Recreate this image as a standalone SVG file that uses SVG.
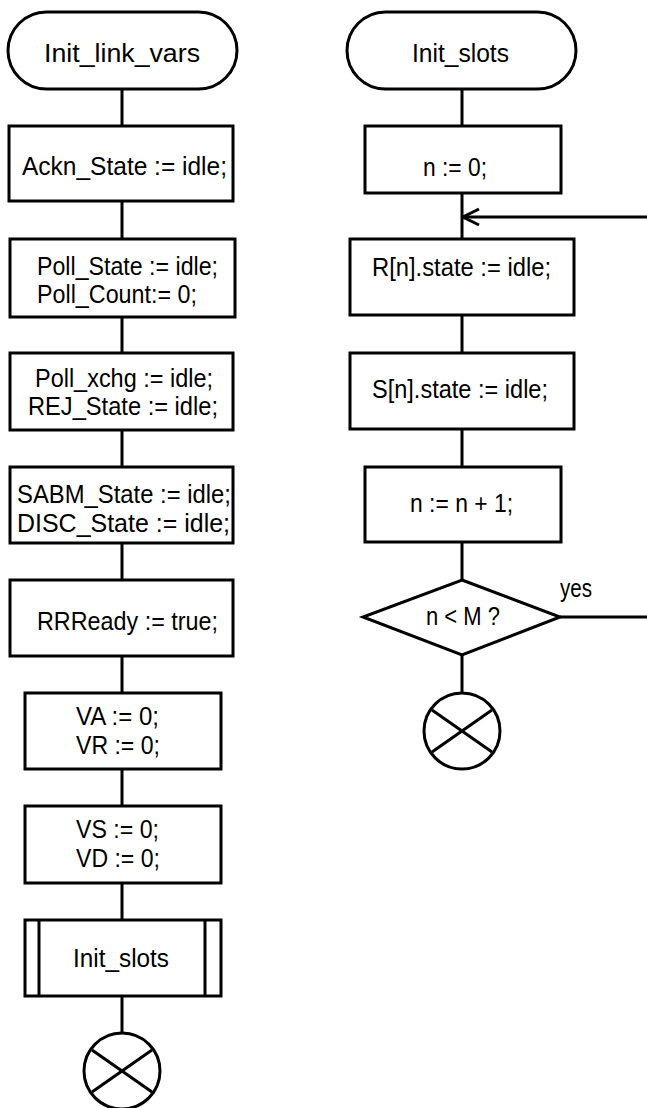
<svg xmlns="http://www.w3.org/2000/svg" width="647" height="1108" viewBox="0 0 647 1108">
<style>
.s{fill:#fff;stroke:#000;stroke-width:3}
.l{fill:none;stroke:#000;stroke-width:3}
text{font-family:"Liberation Sans Narrow","Liberation Sans",Arial,sans-serif;font-size:25px;fill:#000}
</style>
<defs>
<marker id="open" viewBox="0 0 20 20" refX="19" refY="10" markerWidth="20" markerHeight="20" markerUnits="userSpaceOnUse" orient="auto">
<path d="M3,2 L19,10 L3,18" fill="none" stroke="#000" stroke-width="3"/>
</marker>
</defs>
<g id="connectors">
<line class="l" x1="122" y1="89" x2="122" y2="1033"/>
<line class="l" x1="462" y1="89" x2="462" y2="692"/>
<path class="l" d="M560,617 H652 V217 H463" marker-end="url(#open)"/>
</g>
<g id="start_left"><rect class="s" x="8" y="12" width="229" height="77" rx="38.5"/><text x="44" y="62" textLength="156" lengthAdjust="spacingAndGlyphs">Init_link_vars</text></g>
<g id="ackn"><rect class="s" x="9" y="126" width="224" height="75"/><text x="22" y="175" textLength="205" lengthAdjust="spacingAndGlyphs">Ackn_State := idle;</text></g>
<g id="poll"><rect class="s" x="10" y="239" width="225" height="78"/><text x="37" y="275" textLength="181" lengthAdjust="spacingAndGlyphs">Poll_State := idle;</text><text x="37" y="303" textLength="160" lengthAdjust="spacingAndGlyphs">Poll_Count:= 0;</text></g>
<g id="pollx"><rect class="s" x="10" y="353" width="223" height="77"/><text x="35" y="387" textLength="178" lengthAdjust="spacingAndGlyphs">Poll_xchg := idle;</text><text x="28" y="415" textLength="190" lengthAdjust="spacingAndGlyphs">REJ_State := idle;</text></g>
<g id="sabm"><rect class="s" x="10" y="467" width="223" height="76"/><text x="17" y="503" textLength="214" lengthAdjust="spacingAndGlyphs">SABM_State := idle;</text><text x="17" y="532" textLength="213" lengthAdjust="spacingAndGlyphs">DISC_State := idle;</text></g>
<g id="rr"><rect class="s" x="10" y="580" width="223" height="76"/><text x="37" y="630" textLength="181" lengthAdjust="spacingAndGlyphs">RRReady := true;</text></g>
<g id="vavr"><rect class="s" x="25" y="693" width="196" height="76"/><text x="76" y="725" textLength="83" lengthAdjust="spacingAndGlyphs">VA := 0;</text><text x="76" y="754" textLength="84" lengthAdjust="spacingAndGlyphs">VR := 0;</text></g>
<g id="vsvd"><rect class="s" x="25" y="806" width="196" height="77"/><text x="76" y="838" textLength="83" lengthAdjust="spacingAndGlyphs">VS := 0;</text><text x="76" y="867" textLength="84" lengthAdjust="spacingAndGlyphs">VD := 0;</text></g>
<g id="call"><rect class="s" x="25" y="920" width="196" height="76"/><line class="l" x1="39" y1="920" x2="39" y2="996"/><line class="l" x1="205" y1="920" x2="205" y2="996"/><text x="73" y="967" textLength="96" lengthAdjust="spacingAndGlyphs">Init_slots</text></g>
<g id="end_left"><circle class="s" cx="122" cy="1071" r="38"/><line class="l" x1="92" y1="1050" x2="152" y2="1092"/><line class="l" x1="92" y1="1092" x2="152" y2="1050"/></g>
<g id="start_right"><rect class="s" x="347" y="12" width="229" height="77" rx="38.5"/><text x="412" y="62" textLength="97" lengthAdjust="spacingAndGlyphs">Init_slots</text></g>
<g id="n0"><rect class="s" x="365" y="126" width="196" height="67"/><text x="423" y="176" textLength="64" lengthAdjust="spacingAndGlyphs">n := 0;</text></g>
<g id="rn"><rect class="s" x="350" y="239" width="224" height="76"/><text x="372" y="276" textLength="179" lengthAdjust="spacingAndGlyphs">R[n].state := idle;</text></g>
<g id="sn"><rect class="s" x="350" y="353" width="224" height="76"/><text x="372" y="398" textLength="176" lengthAdjust="spacingAndGlyphs">S[n].state := idle;</text></g>
<g id="inc"><rect class="s" x="365" y="467" width="196" height="75"/><text x="410" y="512" textLength="103" lengthAdjust="spacingAndGlyphs">n := n + 1;</text></g>
<g id="dec"><polygon class="s" points="462,580 560,617 462,655 363,617"/><text x="426" y="625" textLength="74" lengthAdjust="spacingAndGlyphs">n &lt; M ?</text><text x="560" y="597" textLength="32" lengthAdjust="spacingAndGlyphs">yes</text></g>
<g id="end_right"><circle class="s" cx="462" cy="731" r="38"/><line class="l" x1="432" y1="710" x2="492" y2="752"/><line class="l" x1="432" y1="752" x2="492" y2="710"/></g>
</svg>
